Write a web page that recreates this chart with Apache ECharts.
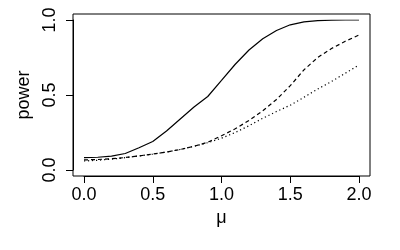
<!DOCTYPE html>
<html><head><meta charset="utf-8">
<script src="https://cdn.jsdelivr.net/npm/echarts@6/dist/echarts.min.js"></script>
<style>html,body{margin:0;padding:0;background:#fff}#c{width:400px;height:250px}</style>
</head><body><div id="c"></div>
<script>
const mu = [0.0,0.1,0.2,0.3,0.4,0.5,0.6,0.7,0.8,0.9,1.0,1.1,1.2,1.3,1.4,1.5,1.6,1.7,1.8,1.9,2.0];
const powerSolid  = [0.082,0.085,0.092,0.110,0.148,0.190,0.260,0.340,0.420,0.490,0.597,0.705,0.800,0.875,0.930,0.968,0.987,0.996,0.999,1.000,1.000];
const powerDashed = [0.067,0.070,0.075,0.083,0.094,0.106,0.120,0.137,0.158,0.185,0.228,0.275,0.330,0.395,0.470,0.562,0.668,0.750,0.810,0.858,0.900];
const powerDotted = [0.060,0.065,0.072,0.082,0.094,0.106,0.120,0.137,0.158,0.182,0.212,0.250,0.295,0.345,0.390,0.432,0.485,0.540,0.590,0.645,0.700];
const xTickLabels = ['0.0','0.5','1.0','1.5','2.0'];
const yTickLabels = ['0.0','0.5','1.0'];
const xLabel = 'μ';
const yLabel = 'power';

const font = '"Liberation Sans", Arial, Helvetica, sans-serif';
const pair = ys => mu.map((m, i) => [m, ys[i]]);
const chart = echarts.init(document.getElementById('c'), null, {renderer: 'canvas'});
chart.setOption({
  animation: false,
  grid: [
    {left: 73, top: 14, width: 297, height: 162, show: true, borderColor: '#000', borderWidth: 1, backgroundColor: 'transparent'},
    {left: 84, top: 20, width: 275, height: 150}
  ],
  xAxis: [
    {gridIndex: 0, type: 'value', show: false, min: 0, max: 1},
    {gridIndex: 1, type: 'value', min: 0, max: 2, interval: 0.5, offset: 6,
     splitLine: {show: false},
     axisLine: {show: true, onZero: false, lineStyle: {color: '#000', width: 1}},
     axisTick: {show: true, length: 7, lineStyle: {color: '#000', width: 1}},
     axisLabel: {margin: 10, color: '#000', fontSize: 18, fontFamily: font,
       formatter: v => xTickLabels[Math.round(v / 0.5)]},
     name: xLabel, nameLocation: 'middle', nameGap: 33,
     nameTextStyle: {color: '#000', fontSize: 18, fontFamily: font}}
  ],
  yAxis: [
    {gridIndex: 0, type: 'value', show: false, min: 0, max: 1},
    {gridIndex: 1, type: 'value', min: 0, max: 1, interval: 0.5, offset: 11,
     splitLine: {show: false},
     axisLine: {show: true, onZero: false, lineStyle: {color: '#000', width: 1}},
     axisTick: {show: true, length: 7, lineStyle: {color: '#000', width: 1}},
     axisLabel: {margin: 14, rotate: 90, color: '#000', fontSize: 18, fontFamily: font,
       formatter: v => yTickLabels[Math.round(v / 0.5)]},
     name: yLabel, nameLocation: 'middle', nameGap: 38,
     nameTextStyle: {color: '#000', fontSize: 18, fontFamily: font}}
  ],
  series: [
    {type: 'line', xAxisIndex: 1, yAxisIndex: 1, data: pair(powerSolid), showSymbol: false, silent: true,
     lineStyle: {color: '#000', width: 1.2, type: 'solid'}},
    {type: 'line', xAxisIndex: 1, yAxisIndex: 1, data: pair(powerDashed), showSymbol: false, silent: true,
     lineStyle: {color: '#000', width: 1.2, type: [4, 3]}},
    {type: 'line', xAxisIndex: 1, yAxisIndex: 1, data: pair(powerDotted), showSymbol: false, silent: true,
     lineStyle: {color: '#000', width: 1.2, type: [1.2, 2.8]}}
  ]
});
</script></body></html>
